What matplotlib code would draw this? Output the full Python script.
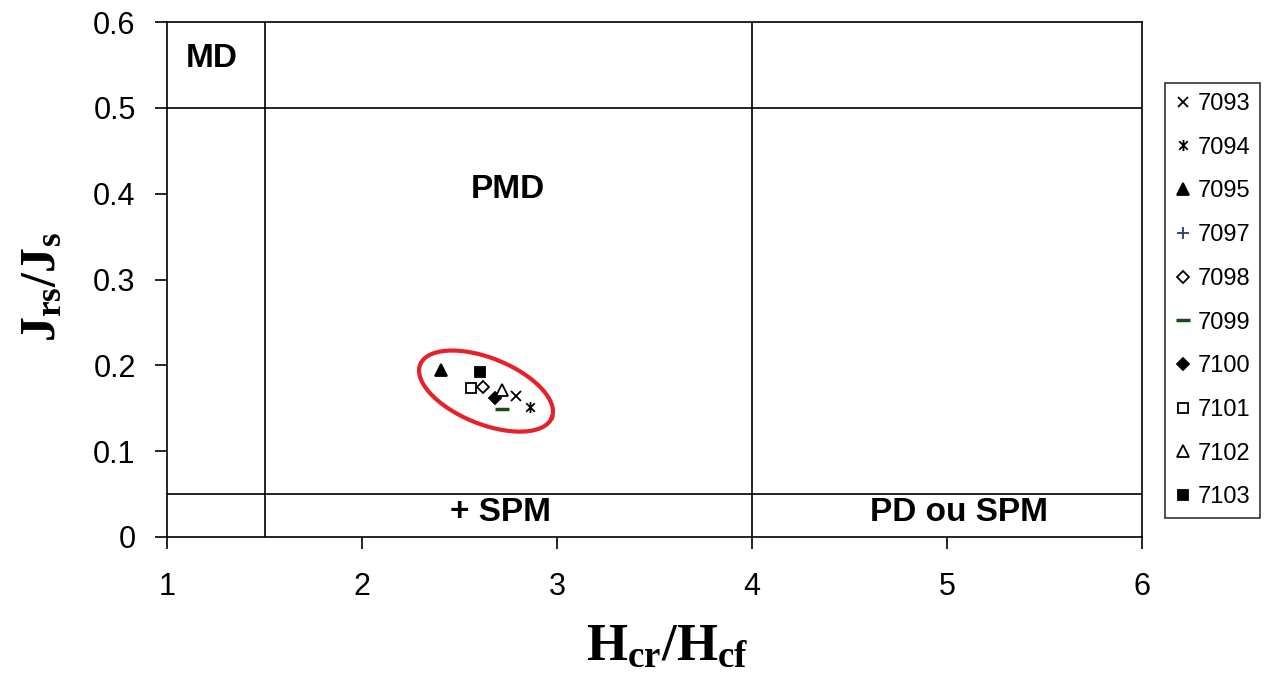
import numpy as np
import matplotlib
matplotlib.use('Agg')
import matplotlib.pyplot as plt
from matplotlib.path import Path

plt.rcParams['font.family'] = ['Liberation Sans', 'DejaVu Sans']
plt.rcParams['mathtext.fontset'] = 'custom'
plt.rcParams['mathtext.rm'] = 'Liberation Serif:bold'
plt.rcParams['mathtext.bf'] = 'Liberation Serif:bold'
plt.rcParams['mathtext.it'] = 'Liberation Serif:bold'

# samples (7097 is not visible in the picture)
samples = ['7093', '7094', '7095', '7097', '7098', '7099', '7100', '7101', '7102', '7103']
hc_ratio = [2.79, 2.86, 2.405, np.nan, 2.62, 2.72, 2.68, 2.56, 2.72, 2.605]
jr_ratio = [0.164, 0.152, 0.195, np.nan, 0.175, 0.149, 0.162, 0.174, 0.171, 0.192]

# excel style star: an x with a vertical bar
star = Path([(-1, -1), (1, 1), (-1, 1), (1, -1), (0, -1.3), (0, 1.3)],
            [Path.MOVETO, Path.LINETO, Path.MOVETO, Path.LINETO, Path.MOVETO, Path.LINETO])

# marker styles: (marker, size, facecolor, edgecolor)
styles = [('x', 7, 'black', 'black'),
          (star, 8, 'black', 'black'),
          ('^', 8, 'black', 'black'),
          ('+', 8, '#1f3f6f', '#1f3f6f'),
          ('D', 6, 'white', 'black'),
          ('_', 10, '#1a4a1a', '#1a4a1a'),
          ('D', 6.5, 'black', 'black'),
          ('s', 7.5, 'white', 'black'),
          ('^', 8, 'white', 'black'),
          ('s', 7.5, 'black', 'black')]

fig = plt.figure(figsize=(12.69, 6.8), dpi=100)
ax = fig.add_axes([167/1269, 1-537/680, (1142-167)/1269, (537-22)/680])

for name, x, y, st in zip(samples, hc_ratio, jr_ratio, styles):
    m, s, fc, ec = st
    lw = 2.5 if isinstance(m, str) and m == '_' else 1.3
    ax.plot([x], [y], linestyle='none', marker=m, markersize=s,
            markerfacecolor=fc, markeredgecolor=ec, markeredgewidth=lw,
            label=name)

# domain boundaries
ax.axvline(1.5, color='black', lw=1.2)
ax.axvline(4, color='black', lw=1.2)
ax.axhline(0.5, color='black', lw=1.2)
ax.axhline(0.05, color='black', lw=1.2)

ax.set_xlim(1, 6)
ax.set_ylim(0, 0.6)
ax.set_xticks([1, 2, 3, 4, 5, 6])
ax.set_yticks([0, 0.1, 0.2, 0.3, 0.4, 0.5, 0.6])
ax.set_yticklabels(['0', '0.1', '0.2', '0.3', '0.4', '0.5', '0.6'])
ax.tick_params(direction='out', length=8.5, width=1.2, labelsize=22)
ax.tick_params(axis='x', pad=17)
ax.tick_params(axis='y', pad=14)
for sp in ax.spines.values():
    sp.set_linewidth(1.2)

ax.text(1.23, 0.558, 'MD', fontsize=24, fontweight='bold', ha='center', va='center')
ax.text(2.75, 0.405, 'PMD', fontsize=24, fontweight='bold', ha='center', va='center')
ax.text(2.71, 0.028, '+ SPM', fontsize=24, fontweight='bold', ha='center', va='center')
ax.text(5.06, 0.028, 'PD ou SPM', fontsize=24, fontweight='bold', ha='center', va='center')

fig.text(667/1269, 1-646/680, r'$\mathbf{H_{cr}/H_{cf}}$', fontsize=38,
         ha='center', va='center')
fig.text(42/1269, 1-287/680, r'$\mathbf{J_{rs}/J_{s}}$', fontsize=36,
         ha='center', va='center', rotation=90)

# red ellipse drawn in pixel space around the cluster
cx, cy = 2.636, 0.170
a_px, b_px, ang = 71, 33, np.deg2rad(-22)
t = np.linspace(0, 2*np.pi, 200)
px = a_px*np.cos(t)*np.cos(ang) - b_px*np.sin(t)*np.sin(ang)
py = a_px*np.cos(t)*np.sin(ang) + b_px*np.sin(t)*np.cos(ang)
ax.plot(cx + px/195.0, cy + py/858.3, color='#e8202a', lw=3)

leg = fig.legend(loc='upper left', bbox_to_anchor=(1165/1269, 1-83/680),
                 fontsize=17, frameon=True, fancybox=False, edgecolor='black',
                 handlelength=0.7, handletextpad=0.25, labelspacing=0.92,
                 borderpad=0.42, borderaxespad=0, numpoints=1)
leg.get_frame().set_linewidth(1.2)

fig.savefig('out.png', dpi=100)
